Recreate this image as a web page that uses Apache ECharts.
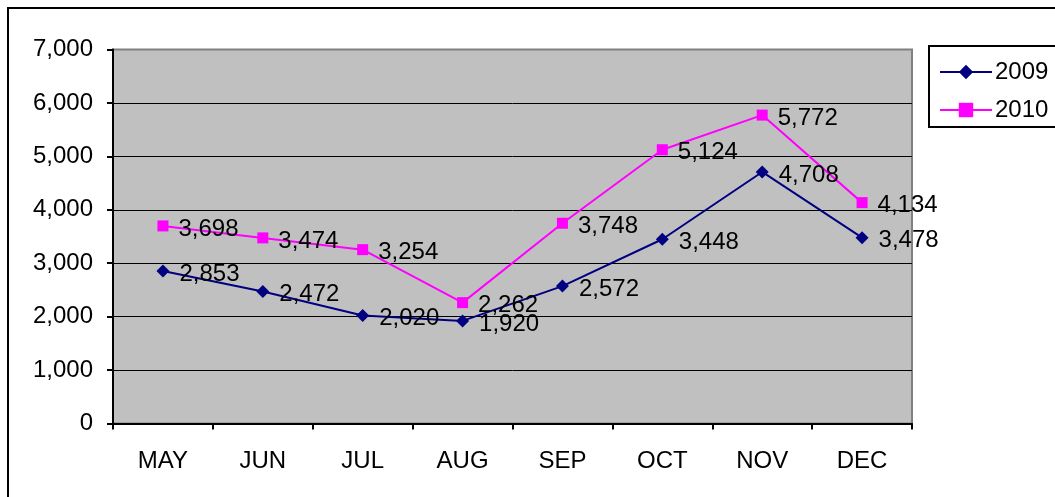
<!DOCTYPE html>
<html>
<head>
<meta charset="utf-8">
<script src="https://cdn.jsdelivr.net/npm/echarts@6/dist/echarts.min.js"></script>
<style>html,body{margin:0;padding:0;background:#fff}#c{width:1055px;height:497px}</style>
</head>
<body>
<div id="c"></div>
<script>
var categories = ['MAY','JUN','JUL','AUG','SEP','OCT','NOV','DEC'];
var s2009 = [2853, 2472, 2020, 1920, 2572, 3448, 4708, 3478];
var s2010 = [3698, 3474, 3254, 2262, 3748, 5124, 5772, 4134];
var yTicks = [0, 1000, 2000, 3000, 4000, 5000, 6000, 7000];

var FONT = 'Liberation Sans, Arial, sans-serif';
var FS = 24;
var fmt = function (v) { return Number(v).toLocaleString('en-US'); };
var chart = echarts.init(document.getElementById('c'), null, {renderer: 'canvas'});
var labelCfg = {
  show: true, position: 'right', distance: 10, offset: [0, 3],
  color: '#000', fontFamily: FONT, fontSize: FS,
  formatter: function (p) { return fmt(p.value); }
};
var splitColors = yTicks.map(function (v, i) { return i === yTicks.length - 1 ? '#808080' : '#000'; });
chart.setOption({
  animation: false,
  backgroundColor: '#fff',
  graphic: [{
    type: 'rect', silent: true, z: 0,
    shape: {x: 8, y: 8, width: 1060, height: 500},
    style: {fill: 'none', stroke: '#000', lineWidth: 2}
  }],
  grid: {
    left: 113, top: 49.5, right: 143, bottom: 73.5,
    show: true, backgroundColor: '#C0C0C0', borderColor: '#808080', borderWidth: 2
  },
  legend: {
    left: 929, top: 46, orient: 'vertical',
    data: ['2009', '2010'],
    padding: [14, 14, 5, 10], itemGap: 14,
    itemWidth: 52, itemHeight: 18,
    borderColor: '#000', borderWidth: 2, backgroundColor: '#fff',
    textStyle: {color: '#000', fontFamily: FONT, fontSize: FS, padding: [0, 0, 0, -2]}
  },
  xAxis: {
    type: 'category', data: categories, boundaryGap: true,
    axisLine: {show: true, lineStyle: {color: '#000', width: 2}},
    axisTick: {show: true, inside: false, length: 6, alignWithLabel: false, lineStyle: {color: '#000', width: 2}},
    axisLabel: {color: '#000', fontFamily: FONT, fontSize: FS, margin: 26},
    splitLine: {show: false}
  },
  yAxis: {
    type: 'value', min: 0, max: 7000, interval: 1000,
    axisLine: {show: true, lineStyle: {color: '#000', width: 2}},
    axisTick: {show: true, length: 6, lineStyle: {color: '#000', width: 2}},
    axisLabel: {color: '#000', fontFamily: FONT, fontSize: FS, margin: 20,
      formatter: function (v) { return yTicks.indexOf(v) >= 0 ? fmt(v) : ''; }},
    splitLine: {show: true, lineStyle: {color: splitColors, width: 1}}
  },
  series: [
    {
      name: '2009', type: 'line', data: s2009,
      symbol: 'diamond', symbolSize: 13,
      lineStyle: {color: '#000080', width: 2},
      itemStyle: {color: '#000080'},
      label: labelCfg, z: 3
    },
    {
      name: '2010', type: 'line', data: s2010,
      symbol: 'rect', symbolSize: 11,
      lineStyle: {color: '#FF00FF', width: 2},
      itemStyle: {color: '#FF00FF'},
      label: labelCfg, z: 3
    }
  ]
});
</script>
</body>
</html>
